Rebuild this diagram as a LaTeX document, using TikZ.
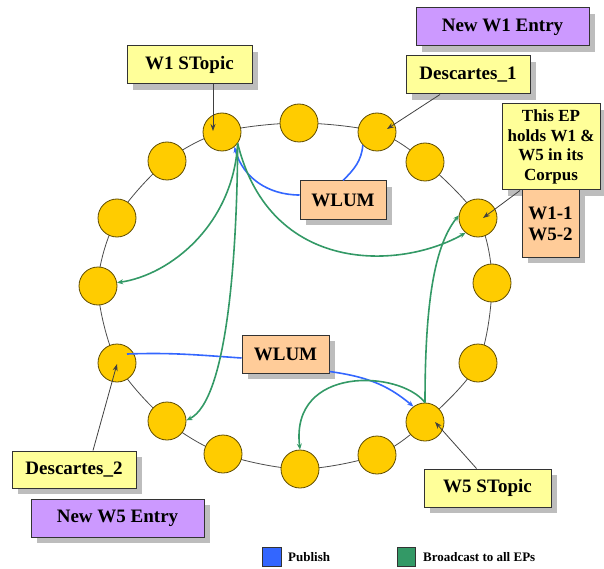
\documentclass[tikz,border=0pt]{standalone}
\usepackage{fontspec}
\setmainfont{Liberation Serif}
\usetikzlibrary{arrows.meta,shadows,calc}
\definecolor{boxyellow}{HTML}{FFFF99}
\definecolor{boxpurple}{HTML}{CC99FF}
\definecolor{boxorange}{HTML}{FFCC99}
\definecolor{epgold}{HTML}{FFCC00}
\definecolor{epedge}{HTML}{5E4B00}
\definecolor{pubblue}{HTML}{3366FF}
\definecolor{bcgreen}{HTML}{339966}
\definecolor{shade}{HTML}{BDBDBD}

\begin{document}
\begin{tikzpicture}[x=1pt,y=-1pt,
  lbl/.style={draw=black!80, line width=1pt, inner sep=0pt, align=center,
    font=\bfseries\fontsize{19}{21}\selectfont,
    drop shadow={shadow xshift=6pt, shadow yshift=-6pt, fill=shade, opacity=1}},
  note/.style={lbl, fill=boxyellow},
  entry/.style={lbl, fill=boxpurple},
  wlum/.style={lbl, fill=boxorange},
  ep/.style={circle, fill=epgold, draw=epedge, line width=0.8pt,
    minimum size=38pt, inner sep=0pt},
  ring/.style={draw=black!70, line width=0.8pt},
  ptr/.style={draw=black!75, line width=0.8pt, -{Stealth[length=7pt,width=5pt]}},
  pub/.style={draw=pubblue, line width=1.6pt, -{Stealth[length=6pt,width=5pt]}},
  bcast/.style={draw=bcgreen, line width=1.6pt, -{Stealth[length=6pt,width=5pt]}},
  legtext/.style={anchor=west, inner sep=0pt, font=\bfseries\fontsize{13}{15}\selectfont}]

\useasboundingbox (0,0) rectangle (604,569);

% ring positions of the entry points
\coordinate (e1) at (222,132);
\coordinate (e2) at (299,123);
\coordinate (e3) at (377,132);
\coordinate (e4) at (425,162);
\coordinate (e5) at (478,218);
\coordinate (e6) at (492,283);
\coordinate (e7) at (478,363);
\coordinate (e8) at (425,422);
\coordinate (e9) at (377,455);
\coordinate (e10) at (300,469);
\coordinate (e11) at (223,454);
\coordinate (e12) at (167,421);
\coordinate (e13) at (117,363);
\coordinate (e14) at (98,286);
\coordinate (e15) at (117,218);
\coordinate (e16) at (167,161);

\draw[ring] plot[smooth cycle] coordinates {(e1) (e2) (e3) (e4) (e5) (e6) (e7) (e8)
  (e9) (e10) (e11) (e12) (e13) (e14) (e15) (e16)};

\foreach \i in {1,...,16} \node[ep] (c\i) at (e\i) {};

% label boxes
\node[entry, minimum width=173pt, minimum height=38pt] (new1) at (502.5,27) {New W1 Entry};
\node[note, minimum width=124pt, minimum height=38pt] (desc1) at (468,75) {Descartes\_1};
\node[note, minimum width=98pt, minimum height=86pt,
  font=\bfseries\fontsize{17}{19.5}\selectfont] (thisep) at (551,147)
  {This EP\\holds W1 \&\\W5 in its\\Corpus};
\node[wlum, minimum width=57pt, minimum height=67pt] (corpus) at (550.5,223.5) {W1-1\\W5-2};
\node[note, minimum width=125pt, minimum height=38pt] (w1s) at (189.5,65) {W1 STopic};
\node[wlum, minimum width=86pt, minimum height=38pt] (wlum1) at (343,200) {WLUM};
\node[wlum, minimum width=87pt, minimum height=38pt] (wlum2) at (285.5,354) {WLUM};
\node[note, minimum width=124pt, minimum height=37pt] (desc2) at (74,469.5) {Descartes\_2};
\node[entry, minimum width=173pt, minimum height=38pt] (new5) at (117.5,518) {New W5 Entry};
\node[note, minimum width=127pt, minimum height=38pt] (w5s) at (487.5,488) {W5 STopic};

% pointers from the labels to their entry points
\coordinate (p1) at (213,131);
\coordinate (p3) at (387,129);
\coordinate (p5) at (483,218);
\coordinate (p8) at (435,422);
\coordinate (p13) at (117,364);
\draw[ptr] (p1 |- w1s.south) -- (p1);
\draw[ptr] ([xshift=-28pt]desc1.south) -- (p3);
\draw[ptr] ([xshift=-31pt]thisep.south) -- (p5);
\draw[ptr] ([xshift=-11pt]w5s.north) -- (p8);
\draw[ptr] ([xshift=19pt]desc2.north) -- (p13);

% publish paths
\draw[pub, -] (c3.-137) to[out=-95, in=45] (wlum1.north);
\draw[pub] ([yshift=5pt]wlum1.west) to[out=180, in=-75] (c1.-50);
\draw[pub, -] ($(c13.center)+(10,-9)$) to[out=2, in=176] ([yshift=-4pt]wlum2.west);
\draw[pub] ([yshift=2pt]wlum2.south east) to[out=-8, in=140] (c8.127);

% broadcast paths
\draw[bcast] (c1.-36) .. controls (233,225) and (170,275) .. (c14.10);
\draw[bcast] (c1.-36) .. controls (237,250) and (228,400) .. (c12.2);
\draw[bcast] (c1.-36) .. controls (270,275) and (400,270) .. (c5.-130);
\draw[bcast] (c8.90) .. controls (425,300) and (435,245) .. (c5.172);
\draw[bcast] (c8.90) .. controls (400,370) and (290,365) .. (c10.90);

% legend
\node[draw=black!80, line width=1pt, fill=pubblue, minimum width=19pt, minimum height=19pt,
  inner sep=0pt] (legpub) at (272,556.5) {};
\node[legtext] (legpubtxt) at (288,557) {Publish};
\node[draw=black!80, line width=1pt, fill=bcgreen, minimum width=18pt, minimum height=19pt,
  inner sep=0pt] (legbc) at (406,556.5) {};
\node[legtext] (legbctxt) at (423,557) {Broadcast to all EPs};
\end{tikzpicture}
\end{document}
